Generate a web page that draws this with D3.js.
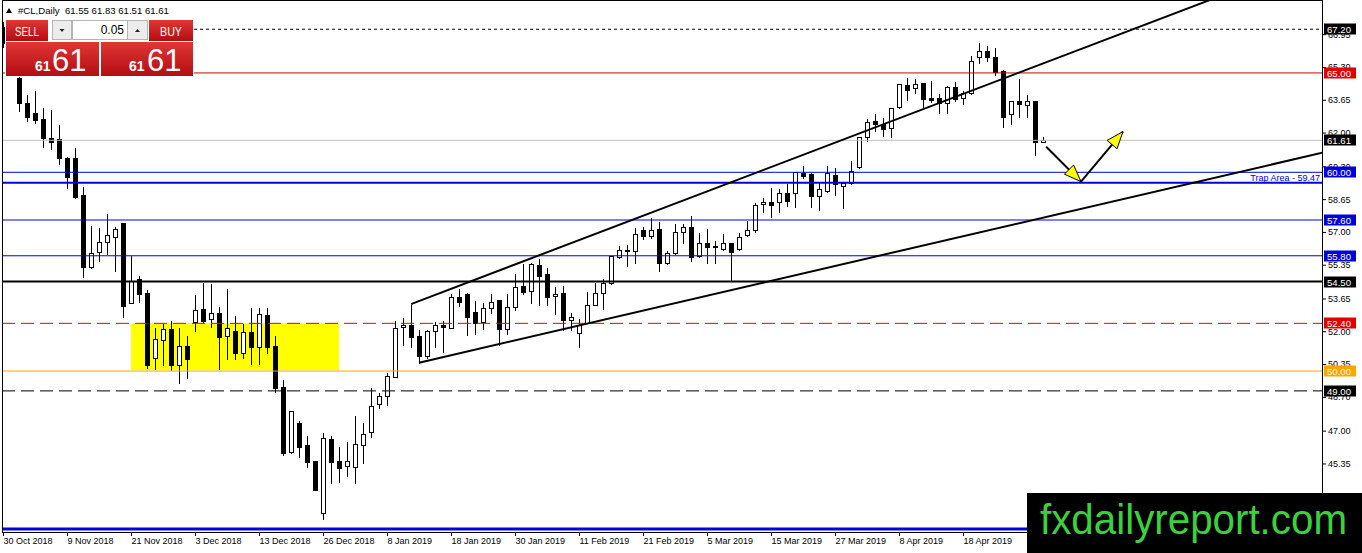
<!DOCTYPE html>
<html>
<head>
<meta charset="utf-8">
<script src="https://cdn.jsdelivr.net/npm/d3@7"></script>
<style>
  body { margin: 0; background: #fff; overflow: hidden; }
  svg { display: block; font-family: "Liberation Sans", Arial, sans-serif; }
</style>
</head>
<body>
<svg id="chart" width="1362" height="553"></svg>
<script>
// daily candles, bar 0 = 30 Oct 2018
const open = [67.30,66.50,64.73,63.51,63.00,62.68,61.71,61.68,60.74,60.71,58.86,55.22,55.98,56.51,56.76,57.44,53.41,54.62,53.91,50.64,
  51.56,52.10,50.30,51.26,52.45,53.11,52.60,52.94,51.76,52.03,50.89,51.95,51.20,52.82,51.26,49.18,45.91,47.37,46.28,45.47,
  42.84,46.58,45.47,45.22,45.16,46.28,46.92,48.34,48.74,49.72,52.20,52.32,51.76,50.77,52.02,52.32,52.18,53.71,53.86,52.99,
  52.45,53.16,53.58,52.10,53.24,54.28,54.03,55.34,54.88,53.78,53.91,52.57,51.93,52.40,53.32,53.94,54.45,55.76,56.05,56.04,
  57.10,56.81,57.13,55.45,55.93,56.98,57.23,55.81,56.43,56.28,56.14,56.43,56.14,56.85,57.10,58.41,58.52,58.52,58.98,58.95,
  59.98,59.90,58.83,59.08,59.87,59.31,59.45,60.25,61.79,62.60,62.42,62.22,63.30,64.40,64.23,64.48,63.73,63.73,63.51,64.28,
  63.73,63.98,65.82,66.12,65.79,65.12,62.94,63.61,63.39,63.61,61.55];
const high = [67.60,66.80,65.30,63.93,64.14,63.27,63.17,62.43,60.80,61.26,59.33,57.35,57.23,57.94,57.32,57.50,55.84,54.83,54.11,52.23,
  52.40,52.57,52.23,51.81,53.88,54.50,54.42,53.29,54.20,52.81,52.40,53.24,53.24,53.24,51.81,49.58,48.00,47.54,46.78,45.50,
  46.95,46.78,46.23,46.50,47.79,47.45,49.21,48.96,49.97,52.57,52.74,53.36,52.12,52.12,52.53,52.57,53.94,54.20,53.99,53.58,
  53.49,53.91,53.60,53.91,54.92,55.42,55.50,55.67,55.22,54.28,54.33,52.99,52.65,54.04,54.50,54.67,55.84,56.34,56.38,57.26,
  57.30,57.77,57.57,56.10,57.44,57.47,57.85,57.01,57.18,56.60,56.93,56.45,57.01,57.60,58.52,58.77,59.28,59.20,59.45,60.08,
  60.37,60.03,59.53,60.37,60.25,59.50,60.62,61.83,62.72,62.97,62.77,63.30,64.51,64.78,64.73,64.50,64.65,63.98,64.40,64.61,
  64.14,65.91,66.58,66.41,66.29,65.20,63.65,64.73,63.94,63.65,61.83];
const low = [66.30,64.95,63.10,62.58,62.50,61.29,61.18,60.40,59.23,58.69,54.75,55.20,55.55,55.88,55.05,52.74,53.40,53.49,50.14,50.09,
  50.30,50.05,49.41,49.63,52.03,52.40,52.23,50.09,50.59,50.59,50.67,50.35,50.35,50.89,48.96,45.78,45.90,45.69,45.16,44.00,
  42.54,44.35,44.43,44.72,44.38,45.36,46.67,48.13,48.29,49.70,51.31,51.23,50.42,50.64,51.23,50.98,52.15,53.27,51.81,51.85,
  52.10,52.91,51.31,51.85,53.07,53.90,53.41,53.32,53.32,52.87,52.07,52.07,51.23,52.40,53.30,53.11,54.40,55.70,55.29,55.42,
  56.63,56.68,55.05,55.40,55.90,56.43,55.55,55.75,55.42,55.42,56.10,54.58,56.10,56.80,57.01,58.02,57.77,58.02,58.31,58.27,
  59.70,58.27,58.11,59.00,58.86,58.19,59.40,60.20,61.59,62.10,61.83,61.79,63.25,63.64,64.01,63.27,63.56,63.00,62.97,63.61,
  63.44,63.95,65.52,65.62,64.90,62.27,62.43,62.77,62.77,60.87,61.51];
const close = [66.50,65.20,63.51,62.80,62.63,61.74,61.54,60.74,59.78,58.77,55.25,55.93,56.48,56.85,57.15,53.29,54.55,53.86,50.30,51.60,
  52.10,50.30,51.26,50.59,53.07,52.53,52.91,51.70,52.15,50.89,51.95,51.20,52.86,51.20,49.13,45.89,47.99,46.19,45.41,44.01,
  46.62,45.41,45.11,45.47,46.31,46.82,48.26,48.76,49.77,52.15,52.32,51.70,50.77,52.02,52.32,52.20,53.71,53.49,52.74,52.43,
  53.16,53.49,52.10,53.24,54.22,54.00,55.37,54.78,53.71,53.88,52.57,52.71,52.32,53.32,53.94,54.45,55.79,56.09,56.10,56.88,
  56.81,57.10,55.42,55.96,56.98,57.23,55.72,56.43,56.26,56.22,56.43,56.00,56.73,57.10,58.36,58.52,58.36,58.98,58.57,60.03,
  59.83,58.81,59.15,59.98,59.41,59.48,60.08,61.76,62.55,62.43,62.17,63.22,64.45,64.14,64.45,63.68,63.64,63.51,64.31,63.68,
  63.98,65.62,66.12,65.79,65.07,62.77,63.61,63.44,63.61,61.55,61.61];

const dateLabels = ["30 Oct 2018","9 Nov 2018","21 Nov 2018","3 Dec 2018","13 Dec 2018","26 Dec 2018","8 Jan 2019","18 Jan 2019",
  "30 Jan 2019","11 Feb 2019","21 Feb 2019","5 Mar 2019","15 Mar 2019","27 Mar 2019","8 Apr 2019","18 Apr 2019"];
const dateTickBars = [0,8,16,24,32,40,48,56,64,72,80,88,96,104,112,120];
const priceTicks = [66.95,65.30,63.65,62.00,60.30,58.65,57.00,55.35,53.65,52.00,50.35,48.70,47.00,45.35,43.70];

// horizontal levels drawn on the chart and their price tags
const levelPrices = [67.20,65.00,61.61,60.00,59.47,57.60,55.80,54.50,52.40,50.00,49.00,42.05];
const tagPrices = [67.20,65.00,61.61,60.00,57.60,55.80,54.50,52.40,50.00,49.00];
const trapPrice = 59.47;
const zoneBars = [16,42];
const zonePrices = [52.40,50.05];
const upperChannel = [[51,53.37],[150,68.54]];
const lowerChannel = [[52,50.42],[164,60.90]];
const arrowPath = [[130.4,61.29],[134.75,59.53],[140,62.05]];
const quote = ["61.55","61.83","61.51","61.61"];

const blue = "#0000dd", red = "#e00000", orange = "#ffa500";
const levelLook = [
  {c:"#000", w:1, dash:"3,3"}, {c:"#cc0000", w:1}, {c:"#c0c0c0", w:1}, {c:blue, w:1},
  {c:blue, w:2}, {c:blue, w:1}, {c:blue, w:1}, {c:"#000", w:2},
  {c:"#ee0000", w:1, dash:"13,6"}, {c:orange, w:1}, {c:"#000", w:1, dash:"13,6"}, {c:blue, w:3}
];
const tagFill = [ "#000", red, "#000", blue, blue, blue, "#000", red, orange, "#000" ];

const svg = d3.select("#chart");
const pL = 2, pR = 1322, pT = 0, pB = 532;

const x = d3.scaleLinear().domain([0,165]).range([3,1323]);
const y = d3.scaleLinear().domain([41.9,68.57]).range([532,2]);

const defs = svg.append("defs");
defs.append("clipPath").attr("id","plot")
  .append("rect").attr("x",pL).attr("y",pT).attr("width",pR-pL).attr("height",pB-pT);

const g = svg.append("g").attr("clip-path","url(#plot)");

// yellow zone
g.append("rect")
  .attr("x", x(zoneBars[0])).attr("width", x(zoneBars[1]) - x(zoneBars[0]))
  .attr("y", y(zonePrices[0])).attr("height", y(zonePrices[1]) - y(zonePrices[0]))
  .attr("fill","#ffff00");

// candles
const bars = d3.range(open.length).map(i => ({i, o:open[i], h:high[i], l:low[i], c:close[i]}));
const px = i => Math.round(x(i)) + 0.5;
const ry = v => Math.round(y(v)) + 0.5;

g.selectAll(".wick").data(bars).join("line")
  .attr("class","wick")
  .attr("x1", d => px(d.i)).attr("x2", d => px(d.i))
  .attr("y1", d => ry(d.h)).attr("y2", d => ry(d.l))
  .attr("stroke","#000").attr("shape-rendering","crispEdges");

g.selectAll(".body").data(bars).join("rect")
  .attr("class","body")
  .attr("x", d => px(d.i) - 2).attr("width", 4)
  .attr("y", d => ry(Math.max(d.o,d.c)))
  .attr("height", d => Math.max(0.01, ry(Math.min(d.o,d.c)) - ry(Math.max(d.o,d.c))))
  .attr("fill", d => d.c >= d.o ? "#fff" : "#000")
  .attr("stroke","#000").attr("shape-rendering","crispEdges");

// horizontal levels
g.selectAll(".level").data(levelPrices).join("line")
  .attr("class","level")
  .attr("x1", pL).attr("x2", pR)
  .attr("y1", d => y(d)).attr("y2", d => y(d))
  .attr("stroke", (d,i) => levelLook[i].c)
  .attr("stroke-width", (d,i) => levelLook[i].w)
  .attr("stroke-dasharray", (d,i) => levelLook[i].dash || null);

g.append("text")
  .attr("x", pR - 2).attr("y", y(trapPrice) - 2)
  .attr("text-anchor","end").attr("font-size",9).attr("fill",blue)
  .text("Trap Area - " + trapPrice.toFixed(2));

// channel rays
function ray(p) {
  const s = (p[1][1] - p[0][1]) / (p[1][0] - p[0][0]);
  const endBar = 170;
  return [[x(p[0][0]), y(p[0][1])], [x(endBar), y(p[0][1] + s * (endBar - p[0][0]))]];
}
g.selectAll(".channel").data([upperChannel, lowerChannel]).join("path")
  .attr("class","channel")
  .attr("d", d => d3.line()(ray(d)))
  .attr("stroke","#000").attr("stroke-width",2).attr("fill","none");

// arrows
const pts = arrowPath.map(p => [x(p[0]), y(p[1])]);
for (let k = 1; k < pts.length; k++) {
  const a = pts[k-1], b = pts[k];
  g.append("line").attr("x1",a[0]).attr("y1",a[1]).attr("x2",b[0]).attr("y2",b[1])
    .attr("stroke","#000").attr("stroke-width",2);
  const dx = b[0]-a[0], dy = b[1]-a[1], len = Math.hypot(dx,dy);
  const ux = dx/len, uy = dy/len, L = 17, W = 6.5;
  const bx = b[0]-ux*L, by = b[1]-uy*L;
  g.append("path")
    .attr("d", d3.line()([[b[0],b[1]],[bx-uy*W,by+ux*W],[bx+uy*W,by-ux*W]]) + "Z")
    .attr("fill","#ffff00").attr("stroke","#000").attr("stroke-width",1);
}

// frame
svg.append("path")
  .attr("d", `M${pL+0.5},${pT+0.5}H${pR+0.5}V${pB+0.5}H${pL+0.5}Z`)
  .attr("fill","none").attr("stroke","#000").attr("shape-rendering","crispEdges");

// price axis
const yAxis = d3.axisRight(y).tickValues(priceTicks).tickFormat(d3.format(".2f")).tickSize(4).tickPadding(2);
svg.append("g").attr("transform",`translate(${pR},0)`).call(yAxis)
  .attr("font-family",null).attr("font-size",9)
  .call(a => a.select(".domain").remove())
  .call(a => a.selectAll("text").attr("fill","#000"));

// price tags
const tags = svg.append("g").selectAll("g").data(tagPrices).join("g")
  .attr("transform", d => `translate(${pR + 2},${Math.round(y(d))})`);
tags.append("rect").attr("x",0).attr("y",-5.5).attr("width",32).attr("height",11)
  .attr("fill", (d,i) => tagFill[i]);
tags.append("text").attr("x",3).attr("y",3.6).attr("font-size",9.6)
  .attr("fill", (d,i) => tagFill[i] === orange ? "#fffbe0" : "#fff")
  .text(d => d.toFixed(2));

// date axis
const xAxis = d3.axisBottom(x).tickValues(dateTickBars).tickFormat((d,i) => dateLabels[i]).tickSize(4).tickPadding(2);
svg.append("g").attr("transform",`translate(0,${pB})`).call(xAxis)
  .attr("font-family",null).attr("font-size",9)
  .call(a => a.select(".domain").remove())
  .call(a => a.selectAll("text").attr("text-anchor","start").attr("fill","#000"));

// one-click trading panel
const grad = defs.append("linearGradient").attr("id","redGrad").attr("x1",0).attr("x2",0).attr("y1",0).attr("y2",1);
grad.append("stop").attr("offset","0%").attr("stop-color","#e03636");
grad.append("stop").attr("offset","100%").attr("stop-color","#b30d12");

const panel = svg.append("g");
panel.append("path").attr("d","M6,13L9,8L12,13Z").attr("fill","#000");
panel.append("text").attr("x",18).attr("y",14).attr("font-size",9.6).attr("fill","#000")
  .attr("xml:space","preserve")
  .text("#CL,Daily  " + quote.join(" "));

panel.append("rect").attr("x",5).attr("y",19).attr("width",189).attr("height",58).attr("fill","#fff");
panel.append("rect").attr("x",6).attr("y",20).attr("width",42).attr("height",21).attr("fill","url(#redGrad)");
panel.append("rect").attr("x",149).attr("y",20).attr("width",44).attr("height",21).attr("fill","url(#redGrad)");
panel.append("text").attr("x",27).attr("y",35.5).attr("text-anchor","middle").attr("font-size",13)
  .attr("textLength",24).attr("lengthAdjust","spacingAndGlyphs").attr("fill","#fff").text("SELL");
panel.append("text").attr("x",171).attr("y",35.5).attr("text-anchor","middle").attr("font-size",13)
  .attr("textLength",22).attr("lengthAdjust","spacingAndGlyphs").attr("fill","#fff").text("BUY");

panel.append("rect").attr("x",52.5).attr("y",20.5).attr("width",19).attr("height",19)
  .attr("fill","#ececec").attr("stroke","#b5b5b5");
panel.append("rect").attr("x",72.5).attr("y",20.5).attr("width",55).attr("height",19)
  .attr("fill","#fff").attr("stroke","#b5b5b5");
panel.append("rect").attr("x",127.5).attr("y",20.5).attr("width",20).attr("height",19)
  .attr("fill","#ececec").attr("stroke","#b5b5b5");
panel.append("path").attr("d","M59.5,29L64.5,29L62,32Z").attr("fill","#222");
panel.append("path").attr("d","M135,32L140,32L137.5,29Z").attr("fill","#222");
panel.append("text").attr("x",124).attr("y",34).attr("text-anchor","end").attr("font-size",12)
  .attr("fill","#000").text("0.05");

[[6,93],[101,92]].forEach(([bx,bw]) => {
  panel.append("rect").attr("x",bx).attr("y",42).attr("width",bw).attr("height",34).attr("fill","url(#redGrad)");
});
[[35,52],[129,147]].forEach(([sx,bx]) => {
  const digits = quote[3].slice(0,2);
  panel.append("text").attr("x",sx).attr("y",71).attr("font-size",14).attr("font-weight","bold")
    .attr("fill","#fff").text(digits);
  panel.append("text").attr("x",bx).attr("y",71).attr("font-size",31)
    .attr("fill","#fff").text(digits);
});

// watermark
svg.append("rect").attr("x",1027).attr("y",493).attr("width",335).attr("height",60).attr("fill","#000");
svg.append("text").attr("x",1040).attr("y",534).attr("font-size",42)
  .attr("textLength",307).attr("lengthAdjust","spacingAndGlyphs")
  .attr("fill","#3ad23a").text("fxdailyreport.com");
</script>
</body>
</html>
